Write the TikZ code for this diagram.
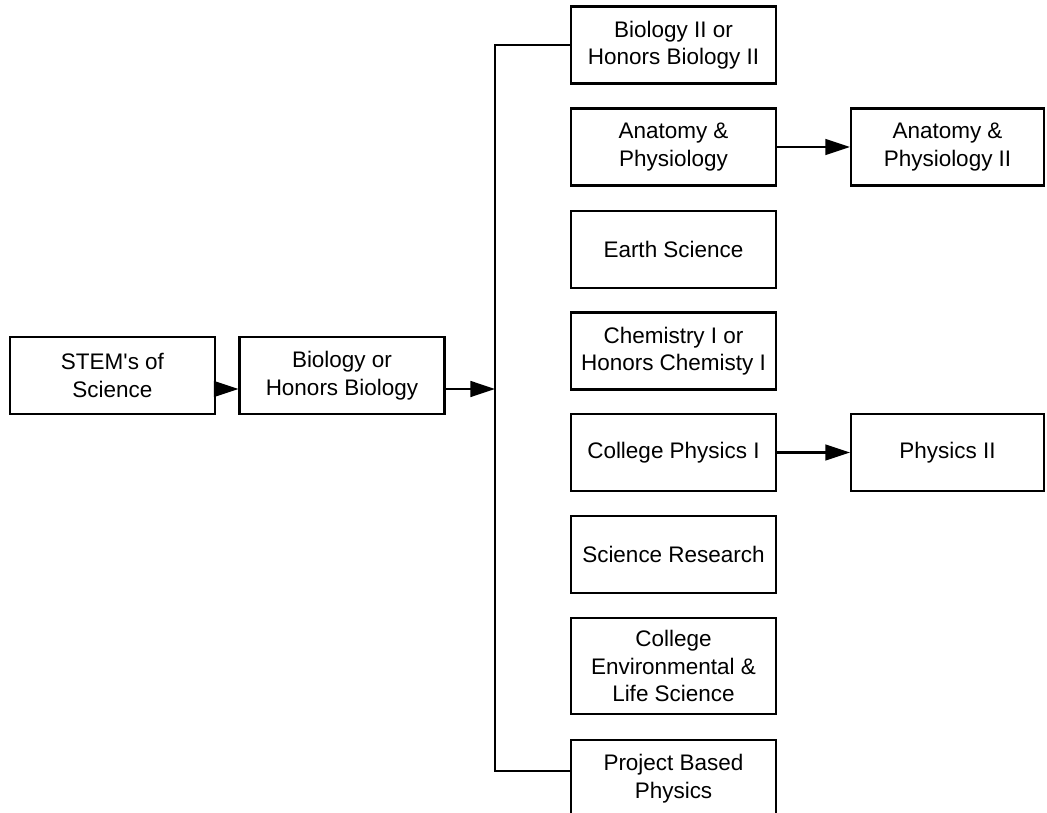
\documentclass[tikz,border=0pt]{standalone}
\usepackage{fontspec}
\setmainfont{Liberation Sans}
\usetikzlibrary{arrows.meta}

\begin{document}
\begin{tikzpicture}[x=0.02cm, y=-0.02cm,
    course/.style={draw, line width=1.3pt, fill=white, align=center,
      minimum width=4.1cm, minimum height=1.54cm, inner sep=2pt,
      font=\fontsize{12.8}{15.6}\selectfont},
    link/.style={line width=1.2pt},
    next/.style={line width=1.2pt, -{Triangle[length=14pt,width=9pt]}}]
      \useasboundingbox (0,0) rectangle (1047,813);
      % first year
      \node[name=stem, course] at (112.5,375.5) {STEM\textquotesingle s of\\Science};
      \node[name=bio, course] at (342,375.5) {Biology or\\Honors Biology};
      % choices
      \node[name=bio2, course] at (673.5,45) {Biology II or\\Honors Biology II};
      \node[name=anat, course] at (673.5,147) {Anatomy \&\\Physiology};
      \node[name=earth, course] at (673.5,249.5) {Earth Science};
      \node[name=chem, course] at (673.5,351) {Chemistry I or\\Honors Chemisty I};
      \node[name=phys, course] at (673.5,452.5) {College Physics I};
      \node[name=research, course] at (673.5,554.5) {Science Research};
      \node[name=env, course, minimum height=1.92cm] at (673.5,666) {College\\Environmental \&\\Life Science};
      \node[name=project, course] at (673.5,778.5) {Project Based\\Physics};
      % follow-ups
      \node[name=anat2, course, minimum width=3.86cm] at (947.5,147) {Anatomy \&\\Physiology II};
      \node[name=phys2, course, minimum width=3.86cm] at (947.5,452.5) {Physics II};
      % spine
      \coordinate (join) at (495,389);
      \coordinate (top) at (495,45);
      \coordinate (bottom) at (495,771);
      \draw[link] (bio2.west) -- (top) -- (bottom) -- (project.west |- bottom);
      \draw[next] (stem.east |- join) -- (bio.west |- join);
      \draw[next] (bio.east |- join) -- (join);
      \draw[next] (anat.east) -- (anat2.west);
      \draw[next] (phys.east) -- (phys2.west);
   \end{tikzpicture}
\end{document}
